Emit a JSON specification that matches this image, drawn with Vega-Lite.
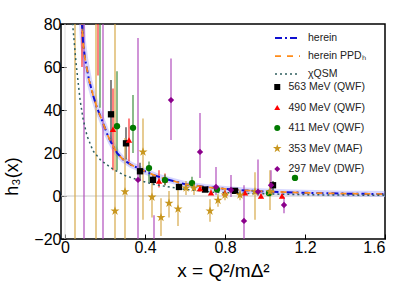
{
  "$schema": "https://vega.github.io/schema/vega-lite/v6.json",
  "width": 324,
  "height": 215,
  "autosize": "none",
  "padding": {"left": 61, "top": 24, "right": 14, "bottom": 55},
  "background": "white",
  "config": {
    "view": {"stroke": "#000000", "strokeWidth": 1.5},
    "font": "Liberation Sans",
    "axis": {"domain": false, "grid": false, "tickColor": "#000000", "labelColor": "#000000", "titleColor": "#000000", "titleFontWeight": "normal", "labelFont": "Liberation Sans", "titleFont": "Liberation Sans"},
    "legend": {"labelFont": "Liberation Sans", "labelColor": "#222222"}
  },
  "datasets": {
    "curves": [
      {"c": "herein", "x": 0.08, "y": 88}, {"c": "herein", "x": 0.09, "y": 72}, {"c": "herein", "x": 0.1, "y": 64},
      {"c": "herein", "x": 0.12, "y": 54}, {"c": "herein", "x": 0.14, "y": 47}, {"c": "herein", "x": 0.16, "y": 41},
      {"c": "herein", "x": 0.19, "y": 34}, {"c": "herein", "x": 0.21, "y": 29}, {"c": "herein", "x": 0.23, "y": 25},
      {"c": "herein", "x": 0.26, "y": 20}, {"c": "herein", "x": 0.29, "y": 17}, {"c": "herein", "x": 0.33, "y": 14.5},
      {"c": "herein", "x": 0.4, "y": 11.5}, {"c": "herein", "x": 0.45, "y": 9.5}, {"c": "herein", "x": 0.5, "y": 8},
      {"c": "herein", "x": 0.6, "y": 5.5}, {"c": "herein", "x": 0.7, "y": 4.2}, {"c": "herein", "x": 0.8, "y": 3.3},
      {"c": "herein", "x": 0.9, "y": 2.6}, {"c": "herein", "x": 1.0, "y": 2.1}, {"c": "herein", "x": 1.1, "y": 1.8},
      {"c": "herein", "x": 1.2, "y": 1.5}, {"c": "herein", "x": 1.3, "y": 1.3}, {"c": "herein", "x": 1.4, "y": 1.1},
      {"c": "herein", "x": 1.5, "y": 1.0}, {"c": "herein", "x": 1.6, "y": 0.9},
      {"c": "herein PPDₕ", "x": 0.08, "y": 88}, {"c": "herein PPDₕ", "x": 0.09, "y": 72}, {"c": "herein PPDₕ", "x": 0.1, "y": 64},
      {"c": "herein PPDₕ", "x": 0.12, "y": 54}, {"c": "herein PPDₕ", "x": 0.14, "y": 47}, {"c": "herein PPDₕ", "x": 0.16, "y": 41},
      {"c": "herein PPDₕ", "x": 0.19, "y": 34}, {"c": "herein PPDₕ", "x": 0.21, "y": 29}, {"c": "herein PPDₕ", "x": 0.23, "y": 25},
      {"c": "herein PPDₕ", "x": 0.26, "y": 20}, {"c": "herein PPDₕ", "x": 0.29, "y": 17}, {"c": "herein PPDₕ", "x": 0.33, "y": 14.5},
      {"c": "herein PPDₕ", "x": 0.4, "y": 11.5}, {"c": "herein PPDₕ", "x": 0.45, "y": 9.5}, {"c": "herein PPDₕ", "x": 0.5, "y": 8},
      {"c": "herein PPDₕ", "x": 0.6, "y": 5.5}, {"c": "herein PPDₕ", "x": 0.7, "y": 4.2}, {"c": "herein PPDₕ", "x": 0.8, "y": 3.3},
      {"c": "herein PPDₕ", "x": 0.9, "y": 2.6}, {"c": "herein PPDₕ", "x": 1.0, "y": 2.1}, {"c": "herein PPDₕ", "x": 1.1, "y": 1.8},
      {"c": "herein PPDₕ", "x": 1.2, "y": 1.5}, {"c": "herein PPDₕ", "x": 1.3, "y": 1.3}, {"c": "herein PPDₕ", "x": 1.4, "y": 1.1},
      {"c": "herein PPDₕ", "x": 1.5, "y": 1.0}, {"c": "herein PPDₕ", "x": 1.6, "y": 0.9},
      {"c": "χQSM", "x": 0.035, "y": 85}, {"c": "χQSM", "x": 0.04, "y": 78}, {"c": "χQSM", "x": 0.055, "y": 62},
      {"c": "χQSM", "x": 0.075, "y": 45}, {"c": "χQSM", "x": 0.09, "y": 36}, {"c": "χQSM", "x": 0.11, "y": 28},
      {"c": "χQSM", "x": 0.14, "y": 21}, {"c": "χQSM", "x": 0.18, "y": 16.5}, {"c": "χQSM", "x": 0.24, "y": 12.5},
      {"c": "χQSM", "x": 0.3, "y": 9.5}, {"c": "χQSM", "x": 0.375, "y": 7.2}, {"c": "χQSM", "x": 0.45, "y": 5.3},
      {"c": "χQSM", "x": 0.575, "y": 3.4}, {"c": "χQSM", "x": 0.74, "y": 1.8}, {"c": "χQSM", "x": 0.9, "y": 1.2},
      {"c": "χQSM", "x": 1.1, "y": 0.8}, {"c": "χQSM", "x": 1.3, "y": 0.5}, {"c": "χQSM", "x": 1.6, "y": 0.3}
    ],
    "pts": [
      {"s": "563 MeV (QWF)", "x": 0.23, "y": 38, "lo": 25, "hi": 54},
      {"s": "563 MeV (QWF)", "x": 0.305, "y": 24.5, "lo": 17, "hi": 32},
      {"s": "563 MeV (QWF)", "x": 0.375, "y": 11.5, "lo": 7.5, "hi": 15.5},
      {"s": "563 MeV (QWF)", "x": 0.44, "y": 7.5, "lo": 5, "hi": 10},
      {"s": "563 MeV (QWF)", "x": 0.57, "y": 4.2, "lo": 3, "hi": 5.5},
      {"s": "563 MeV (QWF)", "x": 0.7, "y": 3, "lo": 2, "hi": 4},
      {"s": "563 MeV (QWF)", "x": 0.85, "y": 2.4, "lo": 1.5, "hi": 3.5},
      {"s": "563 MeV (QWF)", "x": 1.04, "y": 5, "lo": 2.5, "hi": 7},
      {"s": "490 MeV (QWF)", "x": 0.085, "y": 90, "lo": 60, "hi": 130},
      {"s": "490 MeV (QWF)", "x": 0.165, "y": 85, "lo": 56, "hi": 120},
      {"s": "490 MeV (QWF)", "x": 0.24, "y": 31, "lo": 12, "hi": 50},
      {"s": "490 MeV (QWF)", "x": 0.32, "y": 26, "lo": 16, "hi": 36},
      {"s": "490 MeV (QWF)", "x": 0.47, "y": 7, "lo": 4, "hi": 12},
      {"s": "490 MeV (QWF)", "x": 0.5, "y": 7.5, "lo": 5, "hi": 10.5},
      {"s": "490 MeV (QWF)", "x": 0.675, "y": 3.5, "lo": 2, "hi": 5},
      {"s": "490 MeV (QWF)", "x": 0.73, "y": 1.5, "lo": 0.5, "hi": 3},
      {"s": "490 MeV (QWF)", "x": 0.8, "y": 1.5, "lo": 0.5, "hi": 2.5},
      {"s": "490 MeV (QWF)", "x": 0.9, "y": 1.5, "lo": 0.5, "hi": 2.5},
      {"s": "490 MeV (QWF)", "x": 0.98, "y": 0, "lo": -1, "hi": 1},
      {"s": "490 MeV (QWF)", "x": 1.085, "y": 0, "lo": -1, "hi": 1},
      {"s": "411 MeV (QWF)", "x": 0.09, "y": 100, "lo": 71, "hi": 140},
      {"s": "411 MeV (QWF)", "x": 0.175, "y": 90, "lo": 41, "hi": 140},
      {"s": "411 MeV (QWF)", "x": 0.26, "y": 32.5, "lo": 12, "hi": 58},
      {"s": "411 MeV (QWF)", "x": 0.34, "y": 31.7, "lo": 20, "hi": 47},
      {"s": "411 MeV (QWF)", "x": 0.42, "y": 13, "lo": 6.5, "hi": 16},
      {"s": "411 MeV (QWF)", "x": 0.5, "y": 7.4, "lo": 5, "hi": 10},
      {"s": "411 MeV (QWF)", "x": 0.635, "y": 6, "lo": 3.5, "hi": 9},
      {"s": "411 MeV (QWF)", "x": 0.76, "y": 3, "lo": 2, "hi": 4.5},
      {"s": "411 MeV (QWF)", "x": 1.02, "y": 1.3, "lo": 0, "hi": 3},
      {"s": "411 MeV (QWF)", "x": 1.15, "y": 8.4, "lo": 8.4, "hi": 8.4},
      {"s": "353 MeV (MAF)", "x": 0.05, "y": 100, "lo": -100, "hi": 300},
      {"s": "353 MeV (MAF)", "x": 0.155, "y": 100, "lo": -100, "hi": 300},
      {"s": "353 MeV (MAF)", "x": 0.25, "y": -7, "lo": -60, "hi": 120},
      {"s": "353 MeV (MAF)", "x": 0.3, "y": 2, "lo": -30, "hi": 27},
      {"s": "353 MeV (MAF)", "x": 0.39, "y": 20.5, "lo": -11, "hi": 36},
      {"s": "353 MeV (MAF)", "x": 0.435, "y": -0.5, "lo": -10, "hi": 8},
      {"s": "353 MeV (MAF)", "x": 0.48, "y": -10, "lo": -18.6, "hi": -1},
      {"s": "353 MeV (MAF)", "x": 0.52, "y": -3.3, "lo": -10, "hi": 2.3},
      {"s": "353 MeV (MAF)", "x": 0.565, "y": -6, "lo": -14, "hi": 3.7},
      {"s": "353 MeV (MAF)", "x": 0.605, "y": 3.7, "lo": 0.5, "hi": 7},
      {"s": "353 MeV (MAF)", "x": 0.645, "y": 3.7, "lo": 0.5, "hi": 7},
      {"s": "353 MeV (MAF)", "x": 0.725, "y": -7, "lo": -12, "hi": -1.5},
      {"s": "353 MeV (MAF)", "x": 0.765, "y": -2, "lo": -5, "hi": 1},
      {"s": "353 MeV (MAF)", "x": 0.8, "y": 0.5, "lo": -2, "hi": 3},
      {"s": "353 MeV (MAF)", "x": 0.875, "y": 0.5, "lo": -2, "hi": 3},
      {"s": "353 MeV (MAF)", "x": 0.95, "y": 2, "lo": -11, "hi": 11},
      {"s": "353 MeV (MAF)", "x": 1.025, "y": 2, "lo": -6.5, "hi": 12},
      {"s": "297 MeV (DWF)", "x": 0.095, "y": 100, "lo": -100, "hi": 300},
      {"s": "297 MeV (DWF)", "x": 0.19, "y": 100, "lo": -100, "hi": 300},
      {"s": "297 MeV (DWF)", "x": 0.365, "y": 7.5, "lo": -30, "hi": 73.5},
      {"s": "297 MeV (DWF)", "x": 0.445, "y": -25, "lo": -50, "hi": -9},
      {"s": "297 MeV (DWF)", "x": 0.53, "y": 44.6, "lo": 26, "hi": 64},
      {"s": "297 MeV (DWF)", "x": 0.675, "y": 20.5, "lo": 8.4, "hi": 38.6},
      {"s": "297 MeV (DWF)", "x": 0.755, "y": 4.2, "lo": 0.5, "hi": 13.5},
      {"s": "297 MeV (DWF)", "x": 0.83, "y": 2.8, "lo": -0.5, "hi": 9.8},
      {"s": "297 MeV (DWF)", "x": 0.895, "y": -11.6, "lo": -25, "hi": 5},
      {"s": "297 MeV (DWF)", "x": 0.965, "y": 2, "lo": 0, "hi": 17},
      {"s": "297 MeV (DWF)", "x": 1.03, "y": 5, "lo": 1.4, "hi": 12},
      {"s": "297 MeV (DWF)", "x": 1.095, "y": -4.2, "lo": -8, "hi": -0.5}
    ]
  },
  "layer": [
    {
      "data": {"values": [{"v": 0}]},
      "mark": {"type": "rule", "color": "#c8c8c8", "strokeWidth": 1},
      "encoding": {
        "y": {"field": "v", "type": "quantitative",
          "scale": {"domain": [-20, 80], "nice": false, "zero": false},
          "axis": {"values": [-20, 0, 20, 40, 60, 80], "labelFontSize": 16, "tickSize": -5, "labelPadding": 5, "title": "h₃(x)", "titleFontSize": 18, "titleX": -40, "titleY": 152}}
      }
    },
    {
      "data": {"values": [{"v": 0}]},
      "mark": {"type": "rule", "color": "#e0e0e0", "strokeWidth": 1},
      "encoding": {
        "x": {"field": "v", "type": "quantitative",
          "scale": {"domain": [-0.02, 1.6], "nice": false, "zero": false},
          "axis": {"values": [0, 0.4, 0.8, 1.2, 1.6], "format": "~g", "labelFontSize": 16, "tickSize": -5, "labelPadding": 5, "title": "x = Q²/mΔ²", "titleFontSize": 19, "titlePadding": 6}}
      }
    },
    {
      "data": {"name": "curves"},
      "transform": [{"filter": "datum.c === 'herein'"}],
      "mark": {"type": "line", "clip": true, "color": "#9999ff", "strokeWidth": 6, "opacity": 0.4},
      "encoding": {
        "x": {"field": "x", "type": "quantitative"},
        "y": {"field": "y", "type": "quantitative"}
      }
    },
    {
      "data": {"name": "pts"},
      "mark": {"type": "rule", "clip": true, "strokeWidth": 1.4, "opacity": 0.85},
      "encoding": {
        "x": {"field": "x", "type": "quantitative"},
        "y": {"field": "lo", "type": "quantitative"},
        "y2": {"field": "hi"},
        "color": {"field": "s", "type": "nominal", "legend": null,
          "scale": {"domain": ["297 MeV (DWF)", "353 MeV (MAF)", "411 MeV (QWF)", "490 MeV (QWF)", "563 MeV (QWF)"],
            "range": ["#b04cbc", "#d6a848", "#3c8c3c", "#ff2a2a", "#333333"]}}
      }
    },
    {
      "data": {"name": "curves"},
      "mark": {"type": "line", "clip": true},
      "encoding": {
        "x": {"field": "x", "type": "quantitative"},
        "y": {"field": "y", "type": "quantitative"},
        "stroke": {"field": "c", "type": "nominal",
          "scale": {"domain": ["herein", "herein PPDₕ", "χQSM"], "range": ["#1010d0", "#ff8c1a", "#2f5f5f"]},
          "legend": {"title": null, "orient": "none", "legendX": 213, "legendY": 9, "symbolType": "stroke", "symbolSize": 625, "symbolStrokeWidth": 1.5, "labelFontSize": 10.5, "labelOffset": 7, "clipHeight": 10, "rowPadding": 7, "padding": 0}},
        "strokeDash": {"field": "c", "type": "nominal",
          "scale": {"domain": ["herein", "herein PPDₕ", "χQSM"], "range": [[7, 3, 2, 3], [6, 6], [2, 3]]},
          "legend": {"title": null, "orient": "none", "legendX": 213, "legendY": 9, "symbolType": "stroke", "symbolSize": 625, "symbolStrokeWidth": 1.5, "labelFontSize": 10.5, "labelOffset": 7, "clipHeight": 10, "rowPadding": 7, "padding": 0}},
        "strokeWidth": {"field": "c", "type": "nominal", "legend": null,
          "scale": {"domain": ["herein", "herein PPDₕ", "χQSM"], "range": [2, 1.5, 2]}}
      }
    },
    {
      "data": {"name": "pts"},
      "mark": {"type": "point", "filled": true, "opacity": 1, "clip": true, "size": 40},
      "encoding": {
        "x": {"field": "x", "type": "quantitative"},
        "y": {"field": "y", "type": "quantitative"},
        "fill": {"field": "s", "type": "nominal",
          "scale": {"domain": ["563 MeV (QWF)", "490 MeV (QWF)", "411 MeV (QWF)", "353 MeV (MAF)", "297 MeV (DWF)"],
            "range": ["#000000", "#ff0000", "#007a00", "#c8961e", "#8b008b"]},
          "legend": {"title": null, "orient": "none", "legendX": 211, "legendY": 58, "labelFontSize": 10.5, "labelOffset": 6, "clipHeight": 10, "rowPadding": 9.5, "padding": 0, "symbolSize": 36}},
        "shape": {"field": "s", "type": "nominal",
          "scale": {"domain": ["563 MeV (QWF)", "490 MeV (QWF)", "411 MeV (QWF)", "353 MeV (MAF)", "297 MeV (DWF)"],
            "range": ["square", "triangle-up", "circle", "M0,-1.5L0.34,-0.46L1.43,-0.46L0.55,0.18L0.88,1.21L0,0.57L-0.88,1.21L-0.55,0.18L-1.43,-0.46L-0.34,-0.46Z", "diamond"]},
          "legend": {"title": null, "orient": "none", "legendX": 211, "legendY": 58, "labelFontSize": 10.5, "labelOffset": 6, "clipHeight": 10, "rowPadding": 9.5, "padding": 0, "symbolSize": 36}}
      }
    }
  ]
}
